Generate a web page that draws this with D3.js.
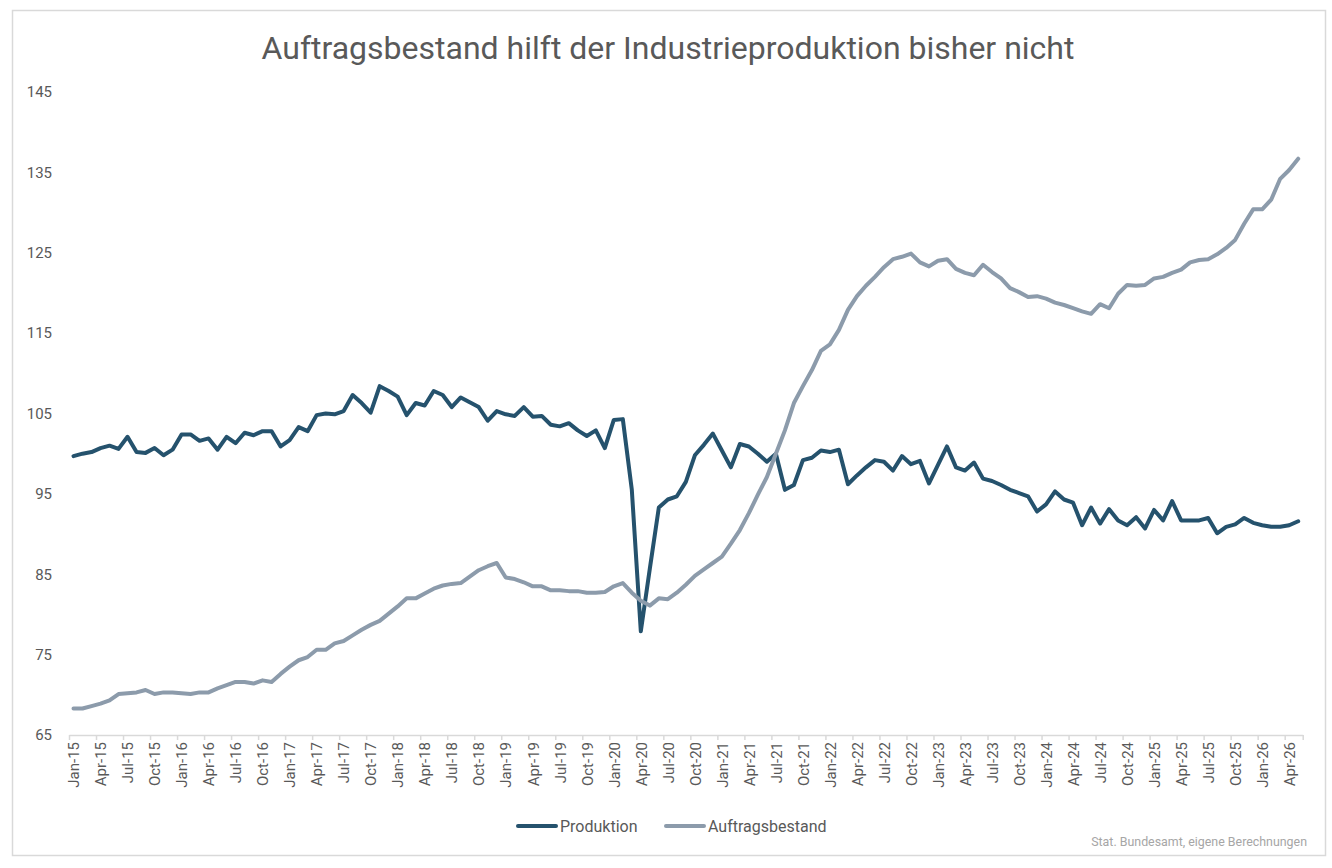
<!DOCTYPE html>
<html>
<head>
<meta charset="utf-8">
<script src="https://cdn.jsdelivr.net/npm/d3@7"></script>
<style>
  body { margin: 0; background: #fff; }
  text { font-family: Roboto, "Liberation Sans", sans-serif; }
</style>
</head>
<body>
<div id="chart"></div>
<script>
// monthly categories Jan-15 .. May-26
const months = d3.timeMonth.range(new Date(2015, 0, 1), new Date(2026, 5, 1));
const monthLabel = d3.timeFormat("%b-%y");

// Industrieproduktion index
const produktion = [
  99.7, 100.0, 100.2, 100.7, 101.0, 100.6, 102.1, 100.2, 100.1, 100.7, 99.8, 100.5,
  102.4, 102.4, 101.6, 101.9, 100.5, 102.1, 101.3, 102.6, 102.3, 102.8, 102.8, 100.9,
  101.7, 103.3, 102.8, 104.8, 105.0, 104.9, 105.3, 107.3, 106.3, 105.1, 108.4, 107.8,
  107.1, 104.8, 106.3, 106.0, 107.8, 107.3, 105.8, 107.0, 106.4, 105.8, 104.1, 105.3,
  104.9, 104.7, 105.8, 104.6, 104.7, 103.6, 103.4, 103.8, 102.9, 102.2, 102.9, 100.7,
  104.2, 104.3, 95.5, 77.9, 85.7, 93.3, 94.3, 94.7, 96.5, 99.8, 101.1, 102.5,
  100.4, 98.3, 101.2, 100.9, 100.0, 99.0, 100.0, 95.5, 96.1, 99.2, 99.5, 100.4,
  100.2, 100.5, 96.2, 97.3, 98.3, 99.2, 99.0, 97.9, 99.7, 98.7, 99.1, 96.3,
  98.6, 100.9, 98.3, 97.9, 98.9, 96.9, 96.6, 96.1, 95.5, 95.1, 94.7, 92.8,
  93.7, 95.3, 94.3, 93.9, 91.1, 93.3, 91.3, 93.1, 91.7, 91.1, 92.1, 90.7,
  93.0, 91.7, 94.1, 91.7, 91.7, 91.7, 92.0, 90.1, 90.9, 91.2, 92.0, 91.4,
  91.1, 90.9, 90.9, 91.1, 91.6
];

// Auftragsbestand index
const auftragsbestand = [
  68.3, 68.3, 68.6, 68.9, 69.3, 70.1, 70.2, 70.3, 70.6, 70.1, 70.3, 70.3,
  70.2, 70.1, 70.3, 70.3, 70.8, 71.2, 71.6, 71.6, 71.4, 71.8, 71.6, 72.6,
  73.5, 74.3, 74.7, 75.6, 75.6, 76.4, 76.7, 77.4, 78.1, 78.7, 79.2, 80.1,
  81.0, 82.0, 82.0, 82.6, 83.2, 83.6, 83.8, 83.9, 84.7, 85.5, 86.0, 86.4,
  84.6, 84.4, 84.0, 83.5, 83.5, 83.0, 83.0, 82.9, 82.9, 82.7, 82.7, 82.8,
  83.5, 83.9, 82.7, 81.7, 81.1, 82.0, 81.9, 82.7, 83.7, 84.8, 85.6, 86.4,
  87.2, 88.8, 90.5, 92.6, 94.9, 97.1, 100.0, 102.9, 106.3, 108.4, 110.4, 112.8,
  113.6, 115.4, 117.9, 119.6, 120.9, 122.0, 123.2, 124.2, 124.5, 124.9, 123.8, 123.3,
  124.0, 124.2, 123.0, 122.5, 122.2, 123.5, 122.6, 121.8, 120.6, 120.1, 119.5, 119.6,
  119.3, 118.8, 118.5, 118.1, 117.7, 117.4, 118.6, 118.1, 119.9, 121.0, 120.9, 121.0,
  121.8, 122.0, 122.5, 122.9, 123.8, 124.1, 124.2, 124.8, 125.6, 126.6, 128.6, 130.4,
  130.4, 131.6, 134.2, 135.3, 136.7
];

const yTicks = [65, 75, 85, 95, 105, 115, 125, 135, 145];
const seriesNames = ["Produktion", "Auftragsbestand"];
const colors = ["#25526d", "#8c9bab"];

const W = 1332, H = 868;

// x: category index, points at category centres
const x = d3.scaleLinear().domain([-0.5, months.length - 0.5]).range([69, 1302.7]);
const y = d3.scaleLinear().domain([65, 145]).range([735, 92]);

const svg = d3.select("#chart")
  .append("svg")
  .attr("width", W)
  .attr("height", H);

// outer frame
svg.append("rect")
  .attr("x", 12.5).attr("y", 10.5)
  .attr("width", 1313).attr("height", 845)
  .attr("fill", "#fff")
  .attr("stroke", "#d9d9d9")
  .attr("stroke-width", 1.5);

// title
svg.append("text")
  .attr("x", 668).attr("y", 59)
  .attr("text-anchor", "middle")
  .attr("fill", "#595959")
  .style("font-size", "32px")
  .text("Auftragsbestand hilft der Industrieproduktion bisher nicht");

// y axis (labels only)
const yAxis = svg.append("g")
  .attr("transform", "translate(55,0)")
  .call(d3.axisLeft(y).tickValues(yTicks).tickSize(0).tickPadding(3));
yAxis.select(".domain").remove();
yAxis.selectAll("text")
  .attr("fill", "#595959")
  .style("font-size", "15px");

// x axis: tick marks at category boundaries every 3 months
const idx = d3.range(months.length);
const quarterIdx = idx.filter(i => i % 3 === 0);

const xTicks = svg.append("g")
  .attr("transform", "translate(0,735)")
  .call(d3.axisBottom(x)
    .tickValues(quarterIdx.map(i => i - 0.5).concat([months.length - 0.5]))
    .tickSize(5)
    .tickSizeOuter(0)
    .tickFormat(""));
xTicks.select(".domain").attr("stroke", "#d9d9d9").attr("stroke-width", 1.5);
xTicks.selectAll(".tick line").attr("stroke", "#d9d9d9").attr("stroke-width", 1.5);

// x labels at category centres
const xLabels = svg.append("g")
  .attr("transform", "translate(0,735)")
  .call(d3.axisBottom(x)
    .tickValues(quarterIdx)
    .tickSize(0)
    .tickFormat(i => monthLabel(months[i])));
xLabels.select(".domain").remove();
xLabels.selectAll("text")
  .attr("transform", "rotate(-90)")
  .attr("x", -7)
  .attr("y", 0)
  .attr("dy", "0.35em")
  .attr("text-anchor", "end")
  .attr("fill", "#595959")
  .style("font-size", "15px");

// lines
const line = d3.line()
  .x((d, i) => x(i))
  .y(d => y(d));

[produktion, auftragsbestand].forEach((s, k) => {
  svg.append("path")
    .datum(s)
    .attr("fill", "none")
    .attr("stroke", colors[k])
    .attr("stroke-width", 4)
    .attr("stroke-linejoin", "round")
    .attr("stroke-linecap", "round")
    .attr("d", line);
});

// legend
const legendX = [518, 666];
seriesNames.forEach((name, k) => {
  const g = svg.append("g").attr("transform", `translate(${legendX[k]},826)`);
  g.append("line")
    .attr("x1", 0).attr("x2", 38)
    .attr("stroke", colors[k])
    .attr("stroke-width", 4)
    .attr("stroke-linecap", "round");
  g.append("text")
    .attr("x", 42).attr("y", 0)
    .attr("dy", "0.35em")
    .attr("fill", "#595959")
    .style("font-size", "16px")
    .text(name);
});

// source
svg.append("text")
  .attr("x", 1307).attr("y", 846)
  .attr("text-anchor", "end")
  .attr("fill", "#a6a6a6")
  .style("font-size", "12.4px")
  .text("Stat. Bundesamt, eigene Berechnungen");
</script>
</body>
</html>
